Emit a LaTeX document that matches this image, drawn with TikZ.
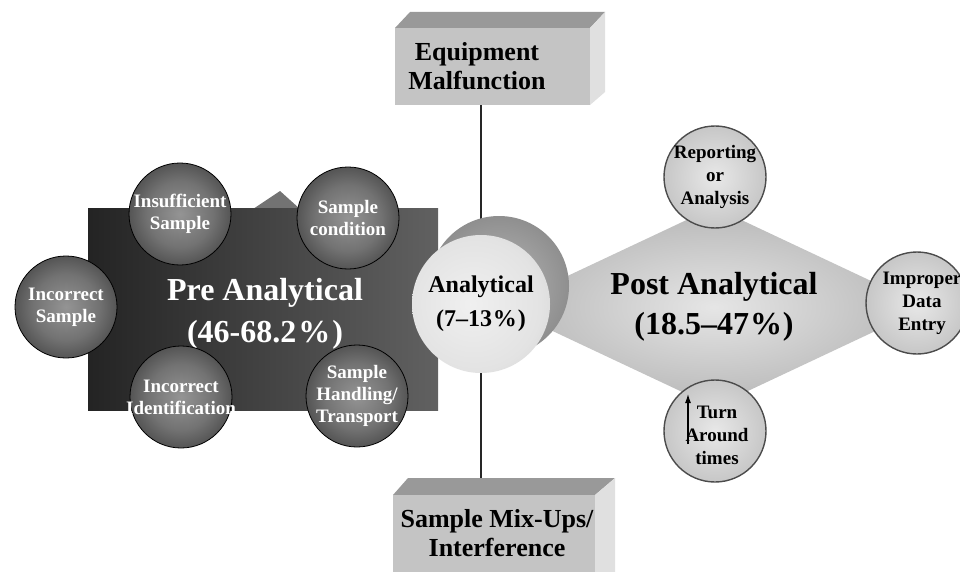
\documentclass[tikz,border=0pt]{standalone}
\usepackage{fontspec}
\setmainfont{Liberation Serif}
\usepackage{tikz}
\usetikzlibrary{arrows.meta,shapes.geometric}
\pgfdeclarelayer{bg}
\pgfsetlayers{bg,main}
\pgfdeclareradialshading{darkball}{\pgfpoint{0bp}{0bp}}{%
  color(0bp)=(black!42); color(16bp)=(black!55); color(32bp)=(black!76);
  color(46bp)=(black!92); color(52bp)=(black)}
\pgfdeclareradialshading{lightball}{\pgfpoint{-4bp}{0bp}}{%
  color(0bp)=(black!6); color(24bp)=(black!11); color(44bp)=(black!22);
  color(56bp)=(black!32)}
\tikzset{
  boxtop/.style={fill=black!40},
  boxfront/.style={fill=black!23},
  boxside/.style={fill=black!12},
  boxlab/.style={align=center, font=\fontsize{26}{29}\selectfont\bfseries},
  prebox/.style={rectangle, minimum width=350pt, minimum height=202pt,
    inner sep=0pt, shading=axis, left color=black!86, right color=black!62},
  peak/.style={fill=black!55},
  heading/.style={align=center, font=\fontsize{32}{42}\selectfont\bfseries},
  cause/.style={circle, draw=black, line width=0.8pt, shading=darkball,
    minimum size=102pt, inner sep=0pt},
  causetext/.style={align=center, text=white, font=\fontsize{19}{22}\selectfont\bfseries},
  postcause/.style={circle, draw=black!70, line width=1.4pt, shading=radial,
    inner color=black!9, outer color=black!22, minimum size=102pt, inner sep=0pt},
  posttext/.style={align=center, text=black, font=\fontsize{19}{23}\selectfont\bfseries},
  postdia/.style={diamond, aspect=2.1, minimum width=425pt, minimum height=200pt,
    inner sep=0pt, shading=radial, inner color=black!10, outer color=black!28,
    align=center, font=\fontsize{32}{40}\selectfont\bfseries},
  anaback/.style={circle, minimum size=140pt, inner sep=0pt, shading=radial,
    inner color=black!28, outer color=black!44},
  anafront/.style={circle, minimum size=138pt, inner sep=0pt, shading=lightball,
    align=center, font=\fontsize{24}{34}\selectfont\bfseries},
  link/.style={draw=black!85, line width=1.3pt}
}
\begin{document}
\begin{tikzpicture}[x=1pt,y=-1pt]
  \clip (0,0) rectangle (960,572);

  % equipment box
  \fill[boxtop] (395,28) -- (410,12) -- (605,12) -- (590,28) -- cycle;
  \fill[boxfront] (395,28) rectangle (590,105);
  \fill[boxside] (590,28) -- (605,12) -- (605,92) -- (590,105) -- cycle;
  \node[boxlab] (equip) at (477,66) {Equipment\\Malfunction};
  \coordinate (eqbot) at (481,105);

  % mix-up box
  \fill[boxtop] (393,495) -- (408,478) -- (615,478) -- (595,495) -- cycle;
  \fill[boxfront] (393,495) rectangle (595,580);
  \fill[boxside] (595,495) -- (615,478) -- (615,580) -- (595,580) -- cycle;
  \node[boxlab] (mixup) at (497,533) {Sample Mix-Ups/\\Interference};
  \coordinate (mxtop) at (481,480);

  % post analytical
  \node[postdia] (post) at (714,307) {Post Analytical\\(18.5--47\kern1pt\%\kern1pt)};
  \node[postcause, label={[posttext]center:Reporting\\or\\Analysis}] (report) at (715,177) {};
  \node[postcause, label={[posttext, xshift=5pt]center:Improper\\Data\\Entry}] (improper) at (917,303) {};
  \node[postcause, label={[posttext, xshift=2pt, yshift=-4pt]center:Turn\\Around\\times}] (turn) at (715,431) {};
  \coordinate (tatail) at (688,444);
  \coordinate (tahead) at (688,394);
  \draw[line width=1.1pt, -{Latex[length=9pt,width=6pt]}] (tatail) -- (tahead);

  % pre analytical
  \fill[peak] (253,209) -- (280,191) -- (300,209) -- cycle;
  \node[prebox] (pre) at (263,309) {};
  \node[heading, text=white] (pretxt) at (265,314) {Pre Analytical\\(46-68.2\kern2pt\%\kern2pt)};
  \node[cause, label={[causetext]center:Insufficient\\Sample}] (insuff) at (180,214) {};
  \node[cause, label={[causetext]center:Sample\\condition}] (cond) at (348,218) {};
  \node[cause, label={[causetext]center:Incorrect\\Sample}] (incsample) at (66,307) {};
  \node[cause, label={[causetext]center:Incorrect\\Identification}] (incident) at (181,397) {};
  \node[cause, label={[causetext]center:Sample\\Handling/\\Transport}] (handling) at (357,396) {};

  % analytical
  \node[anaback] (anab) at (499,286) {};
  \node[anafront] (ana) at (481,304) {Analytical\\(7--13\kern1pt\%\kern1pt)};

  \begin{pgfonlayer}{bg}
    \fill[white] (0,0) rectangle (960,572);
    \draw[link] (eqbot) -- (ana.center);
    \draw[link] (mxtop) -- (ana.center);
  \end{pgfonlayer}
\end{tikzpicture}
\end{document}
